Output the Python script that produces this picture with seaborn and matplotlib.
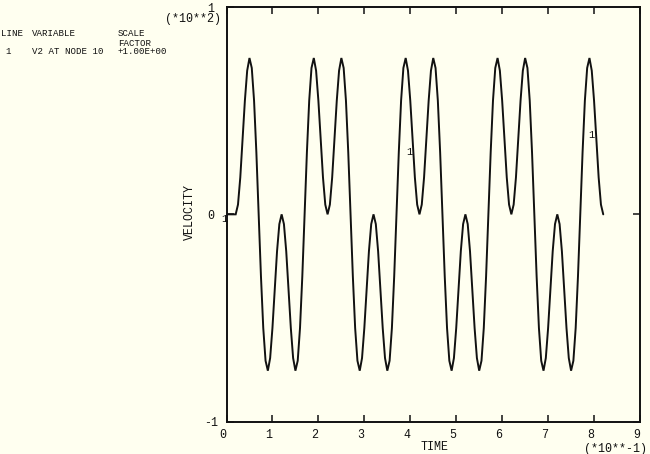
import numpy as np
import pandas as pd
import matplotlib
matplotlib.use("Agg")
import matplotlib.pyplot as plt
import matplotlib.transforms as mtransforms
import seaborn as sns

# V2 at node 10, sampled every 5 ms (values in raw units, axis shows *10**2)
time_step = 0.005
velocity = [
    0, 0, 0, 0,
    0, 4.7, 17.8, 36.0, 54.8, 69.3, 75.4, 70.6, 54.8, 29.9,
    0, -29.9, -54.8, -70.6, -75.4, -69.3, -54.8, -36.0, -17.8, -4.7,
    0, -4.7, -17.8, -36.0, -54.8, -69.3, -75.4, -70.6, -54.8, -29.9,
    0, 29.9, 54.8, 70.6, 75.4, 69.3, 54.8, 36.0, 17.8, 4.7,
    0, 4.7, 17.8, 36.0, 54.8, 69.3, 75.4, 70.6, 54.8, 29.9,
    0, -29.9, -54.8, -70.6, -75.4, -69.3, -54.8, -36.0, -17.8, -4.7,
    0, -4.7, -17.8, -36.0, -54.8, -69.3, -75.4, -70.6, -54.8, -29.9,
    0, 29.9, 54.8, 70.6, 75.4, 69.3, 54.8, 36.0, 17.8, 4.7,
    0, 4.7, 17.8, 36.0, 54.8, 69.3, 75.4, 70.6, 54.8, 29.9,
    0, -29.9, -54.8, -70.6, -75.4, -69.3, -54.8, -36.0, -17.8, -4.7,
    0, -4.7, -17.8, -36.0, -54.8, -69.3, -75.4, -70.6, -54.8, -29.9,
    0, 29.9, 54.8, 70.6, 75.4, 69.3, 54.8, 36.0, 17.8, 4.7,
    0, 4.7, 17.8, 36.0, 54.8, 69.3, 75.4, 70.6, 54.8, 29.9,
    0, -29.9, -54.8, -70.6, -75.4, -69.3, -54.8, -36.0, -17.8, -4.7,
    0, -4.7, -17.8, -36.0, -54.8, -69.3, -75.4, -70.6, -54.8, -29.9,
    0, 29.9, 54.8, 70.6, 75.4, 69.3, 54.8, 36.0, 17.8, 4.7,
    0,
]
time = np.round(np.arange(len(velocity)) * time_step, 3)

x_ticks = [0, 0.1, 0.2, 0.3, 0.4, 0.5, 0.6, 0.7, 0.8, 0.9]
x_tick_labels = ["0", "1", "2", "3", "4", "5", "6", "7", "8", "9"]
y_ticks = [-100, 0, 100]
y_tick_labels = ["-1", "0", "1"]

# curve number labels drawn along the line
curve_label_pos = [(-0.005, -2.3), (0.397, 30.3), (0.795, 38.4)]

df = pd.DataFrame({"time": time, "velocity": velocity})

sns.set_theme(style="white")
plt.rcParams["font.family"] = ["Liberation Mono", "DejaVu Sans Mono"]

bg = "#FFFFF0"
ink = "#111111"
W, H = 650, 454

fig = plt.figure(figsize=(6.5, 4.54), dpi=100, facecolor=bg)
ax = fig.add_axes([226.5 / W, 1 - 421.7 / H, (640 - 226.5) / W, (421.7 - 7) / H])
ax.set_facecolor(bg)

sns.lineplot(data=df, x="time", y="velocity", ax=ax, color=ink,
             linewidth=1.4, estimator=None, solid_joinstyle="miter")

ax.set_xlim(0, 0.9)
ax.set_ylim(-100, 100)
ax.set_xticks(x_ticks)
ax.set_xticklabels(x_tick_labels)
ax.set_yticks(y_ticks)
ax.set_yticklabels(y_tick_labels)
ax.set_xlabel("")
ax.set_ylabel("")

for s in ax.spines.values():
    s.set_visible(True)
    s.set_color(ink)
    s.set_linewidth(1.4)

ax.tick_params(axis="both", direction="in", length=5, width=1.1, color=ink,
               top=True, right=True, bottom=True, left=True,
               labelsize=8.4, labelcolor=ink)
ax.tick_params(axis="x", pad=5.4)
ax.tick_params(axis="y", pad=11.2)

shift = mtransforms.ScaledTranslation(-3.5 / 100, 0, fig.dpi_scale_trans)
for lbl in ax.get_xticklabels():
    lbl.set_transform(lbl.get_transform() + shift)
for lbl in ax.get_yticklabels():
    lbl.set_ha("center")

for (tx, ty) in curve_label_pos:
    ax.text(tx, ty, "1", fontsize=7.5, color=ink, ha="center", va="center",
            clip_on=False)


def ftext(x, y, s, **kw):
    kw.setdefault("fontsize", 8.4)
    kw.setdefault("va", "center")
    fig.text(x / W, 1 - y / H, s, color=ink, **kw)


ftext(221, 19, "(*10**2)", ha="right")
ftext(647, 449, "(*10**-1)", ha="right")
ftext(435, 447, "TIME", ha="center")
ftext(190, 212, "VELOCITY", ha="center", rotation=90)

# legend block at top left
ftext(1, 34, "LINE", fontsize=6.6)
ftext(32, 34, "VARIABLE", fontsize=6.6)
ftext(118, 34, "SCALE", fontsize=6.6)
ftext(118, 43, "FACTOR", fontsize=6.6)
ftext(5, 52, "1", fontsize=6.6)
ftext(32, 52, "V2 AT NODE 10", fontsize=6.6)
ftext(118, 52, "+1.00E+00", fontsize=6.6)

fig.savefig("out.png", dpi=100, facecolor=bg)
